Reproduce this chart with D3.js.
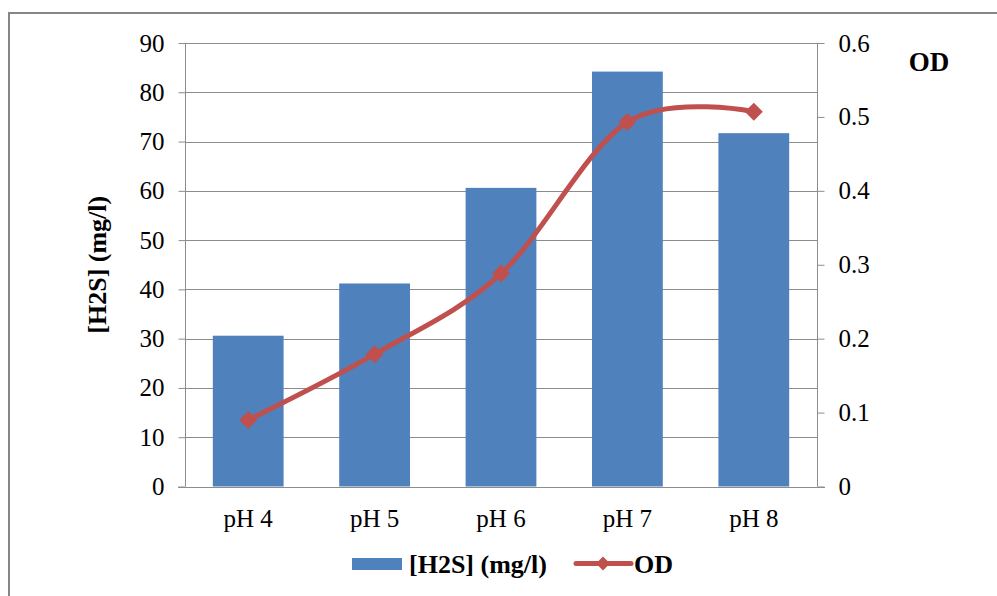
<!DOCTYPE html>
<html>
<head>
<meta charset="utf-8">
<script src="https://cdn.jsdelivr.net/npm/d3@7"></script>
<style>
  html, body { margin: 0; padding: 0; background: #fff; }
  svg { display: block; }
  text { font-family: "Liberation Serif", "Times New Roman", serif; fill: #000; }
</style>
</head>
<body>
<svg id="chart" width="997" height="596"></svg>
<script>
// Hydrogen sulfide production and optical density across pH levels
const categories = ["pH 4", "pH 5", "pH 6", "pH 7", "pH 8"];
const h2sValues = [30.6, 41.2, 60.6, 84.2, 71.7];
const odValues = [0.09, 0.179, 0.288, 0.493, 0.507];
const leftTicks = [0, 10, 20, 30, 40, 50, 60, 70, 80, 90];
const rightTicks = [0, 0.1, 0.2, 0.3, 0.4, 0.5, 0.6];

const svg = d3.select("#chart");
const plot = { left: 185, right: 817, top: 43, bottom: 486.5 };
const gridColor = "#8c8c8c";
const barColor = "#4F81BD";
const lineColor = "#C0504D";
const tickFont = 25;

// outer chart frame
svg.append("rect")
  .attr("x", 9).attr("y", 13)
  .attr("width", 1100).attr("height", 700)
  .attr("fill", "none").attr("stroke", "#868686").attr("stroke-width", 2);

const x = d3.scaleBand().domain(categories).range([plot.left, plot.right]).paddingInner(0.44).paddingOuter(0.22);
const yLeft = d3.scaleLinear().domain([0, 90]).range([plot.bottom, plot.top]);
const yRight = d3.scaleLinear().domain([0, 0.6]).range([plot.bottom, plot.top]);

// horizontal gridlines
svg.append("g").selectAll("line").data(leftTicks.filter(d => d > 0)).join("line")
  .attr("x1", plot.left).attr("x2", plot.right)
  .attr("y1", d => Math.round(yLeft(d)) + 0.5).attr("y2", d => Math.round(yLeft(d)) + 0.5)
  .attr("stroke", gridColor).attr("stroke-width", 1);

// bars
svg.append("g").selectAll("rect").data(categories).join("rect")
  .attr("x", d => x(d))
  .attr("width", x.bandwidth())
  .attr("y", (d, i) => yLeft(h2sValues[i]))
  .attr("height", (d, i) => plot.bottom - yLeft(h2sValues[i]))
  .attr("fill", barColor);

// left axis
const leftAxis = svg.append("g").attr("transform", `translate(${plot.left + 0.5},0)`)
  .call(d3.axisLeft(yLeft).tickValues(leftTicks).tickSize(7).tickPadding(14).tickFormat(d3.format("d")));
// right axis
const rightAxis = svg.append("g").attr("transform", `translate(${plot.right + 0.5},0)`)
  .call(d3.axisRight(yRight).tickValues(rightTicks).tickSize(7).tickPadding(14)
    .tickFormat(d => d === 0 ? "0" : d3.format(".1f")(d)));
[leftAxis, rightAxis].forEach(g => {
  g.select(".domain").remove();
  g.selectAll(".tick line").attr("stroke", gridColor);
  g.selectAll(".tick text").attr("font-size", tickFont).attr("font-family", "Liberation Serif").attr("fill", "#000");
});
svg.append("line").attr("x1", plot.left + 0.5).attr("x2", plot.left + 0.5)
  .attr("y1", plot.top).attr("y2", plot.bottom).attr("stroke", gridColor);
svg.append("line").attr("x1", plot.right + 0.5).attr("x2", plot.right + 0.5)
  .attr("y1", plot.top).attr("y2", plot.bottom).attr("stroke", gridColor);

// bottom axis
const bottomAxis = svg.append("g").attr("transform", `translate(0,${Math.round(plot.bottom) + 0.5})`)
  .call(d3.axisBottom(x).tickSize(0).tickPadding(22));
bottomAxis.select(".domain").attr("stroke", gridColor).attr("d", `M${plot.left - 7},0H${plot.right + 8}`);
bottomAxis.selectAll(".tick text").attr("font-size", tickFont).attr("font-family", "Liberation Serif").attr("fill", "#000");

// OD line (smoothed)
const cx = i => x(categories[i]) + x.bandwidth() / 2;
const line = d3.line().x((d, i) => cx(i)).y(d => yRight(d)).curve(d3.curveCardinal.tension(0));
svg.append("path").datum(odValues)
  .attr("d", line).attr("fill", "none")
  .attr("stroke", lineColor).attr("stroke-width", 5).attr("stroke-linejoin", "round");

const diamond = r => `M0,${-r}L${r},0L0,${r}L${-r},0Z`;
svg.append("g").selectAll("path").data(odValues).join("path")
  .attr("transform", (d, i) => `translate(${cx(i)},${yRight(d)})`)
  .attr("d", diamond(9)).attr("fill", lineColor);

// axis titles
svg.append("text")
  .attr("transform", `translate(106,${(plot.top + plot.bottom) / 2}) rotate(-90)`)
  .attr("text-anchor", "middle").attr("font-weight", "bold").attr("font-size", 26)
  .text("[H2S] (mg/l)");
svg.append("text")
  .attr("x", 929).attr("y", 71)
  .attr("text-anchor", "middle").attr("font-weight", "bold").attr("font-size", 27)
  .text("OD");

// legend
const legend = svg.append("g");
legend.append("rect").attr("x", 352).attr("y", 558).attr("width", 50).attr("height", 12).attr("fill", barColor);
legend.append("text").attr("x", 409).attr("y", 573).attr("font-weight", "bold").attr("font-size", 26)
  .text("[H2S] (mg/l)");
legend.append("line").attr("x1", 576).attr("x2", 631).attr("y1", 563.5).attr("y2", 563.5)
  .attr("stroke", lineColor).attr("stroke-width", 5).attr("stroke-linecap", "round");
legend.append("path").attr("transform", "translate(603,563.5)").attr("d", diamond(7)).attr("fill", lineColor);
legend.append("text").attr("x", 634).attr("y", 573).attr("font-weight", "bold").attr("font-size", 26)
  .text("OD");
</script>
</body>
</html>
